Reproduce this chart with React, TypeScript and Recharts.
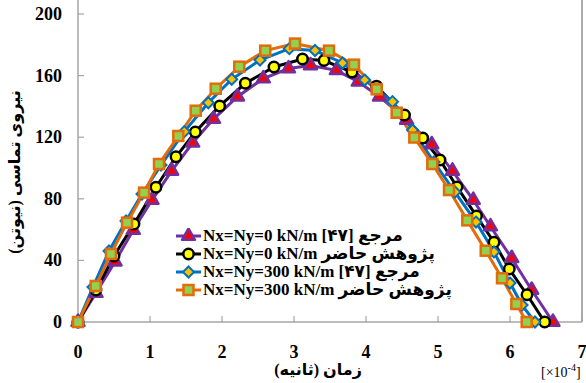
import React from 'react';
import {
  LineChart,
  Line,
  XAxis,
  YAxis,
  Legend,
  ReferenceLine,
} from 'recharts';

// time in units of 1e-4 s, contact force in N
const refZeroTime = [0, 0.25, 0.514, 0.768, 1.028, 1.301, 1.593, 1.882, 2.215, 2.574, 2.924, 3.229, 3.588, 3.893, 4.188, 4.563, 4.913, 5.201, 5.49, 5.729, 6.024, 6.301, 6.597];
const refZeroForce = [0, 18.8, 39.2, 59.7, 79.2, 98.1, 116.4, 131.8, 146.3, 158.1, 164.6, 166.6, 163.4, 156.0, 146.3, 131.2, 115.3, 98.1, 79.2, 62.0, 41.4, 20.8, 0];

const presentZeroTime = [0, 0.25, 0.5, 0.778, 1.083, 1.361, 1.629, 1.968, 2.324, 2.722, 3.118, 3.417, 3.806, 4.146, 4.535, 4.788, 5.028, 5.264, 5.535, 5.778, 5.99, 6.236, 6.482];
const presentZeroForce = [0, 20.8, 42.9, 63.6, 87.5, 107.3, 123.4, 140.3, 155.0, 165.6, 170.8, 169.8, 162.3, 153.2, 134.4, 119.5, 105.2, 87.7, 68.8, 51.8, 34.4, 17.7, 0];

const ref300Time = [0, 0.208, 0.431, 0.667, 0.889, 1.153, 1.476, 1.81, 2.135, 2.528, 2.935, 3.292, 3.674, 3.982, 4.368, 4.646, 4.944, 5.236, 5.528, 5.778, 6.0, 6.167, 6.347];
const ref300Force = [0, 22.7, 46.1, 65.6, 83.1, 101.9, 123.6, 142.4, 157.6, 170.1, 177.5, 176.3, 168.2, 157.1, 143.1, 124.7, 103.9, 84.4, 64.9, 45.5, 25.3, 11, 0];

const present300Time = [0, 0.246, 0.458, 0.681, 0.917, 1.125, 1.393, 1.635, 1.913, 2.24, 2.601, 3.014, 3.486, 3.833, 4.149, 4.426, 4.671, 4.921, 5.153, 5.407, 5.663, 5.889, 6.088, 6.232];
const present300Force = [0, 23.4, 44.2, 64.5, 84.0, 102.6, 120.8, 137.2, 151.5, 165.8, 176.2, 180.8, 176.2, 167.1, 151.1, 135.9, 119.8, 102.6, 85.7, 66.0, 46.3, 28.4, 11.7, 0];

const xTicks = [0, 1, 2, 3, 4, 5, 6, 7];
const yTicks = [0, 40, 80, 120, 160, 200];

const legendLabels = [
  'مرجع [۴۷] Nx=Ny=0 kN/m',
  'پژوهش حاضر Nx=Ny=0 kN/m',
  'مرجع [۴۷] Nx=Ny=300 kN/m',
  'پژوهش حاضر Nx=Ny=300 kN/m',
];

const toPoints = (time: number[], force: number[]) =>
  time.map((t, i) => ({ t, f: force[i] }));

const FONT = '"Liberation Serif", "Times New Roman", "DejaVu Sans", serif';
const AXIS_GREY = '#a6a6a6';

type Marker = 'triangle' | 'circle' | 'diamond' | 'square';

function drawMarker(kind: Marker, cx: number, cy: number, stroke: string, fill: string, key?: string) {
  if (kind === 'triangle') {
    const r = 7.5;
    const pts = `${cx},${cy - r} ${cx + r * 0.866},${cy + r / 2} ${cx - r * 0.866},${cy + r / 2}`;
    return <polygon key={key} points={pts} fill={fill} stroke={stroke} strokeWidth={2.5} strokeLinejoin="round" />;
  }
  if (kind === 'circle') {
    return <circle key={key} cx={cx} cy={cy} r={5.2} fill={fill} stroke={stroke} strokeWidth={2.5} />;
  }
  if (kind === 'diamond') {
    const r = 5.5;
    const pts = `${cx},${cy - r} ${cx + r},${cy} ${cx},${cy + r} ${cx - r},${cy}`;
    return <polygon key={key} points={pts} fill={fill} stroke={stroke} strokeWidth={2} />;
  }
  return <rect key={key} x={cx - 5} y={cy - 5} width={10} height={10} fill={fill} stroke={stroke} strokeWidth={2.5} />;
}

const series = [
  { id: 'refZero', data: toPoints(refZeroTime, refZeroForce), line: '#7030a0', fill: '#ff0000', marker: 'triangle' as Marker },
  { id: 'presentZero', data: toPoints(presentZeroTime, presentZeroForce), line: '#000000', fill: '#ffff00', marker: 'circle' as Marker },
  { id: 'ref300', data: toPoints(ref300Time, ref300Force), line: '#0070c0', fill: '#ffc000', marker: 'diamond' as Marker },
  { id: 'present300', data: toPoints(present300Time, present300Force), line: '#e36c0a', fill: '#92d050', marker: 'square' as Marker },
];

const XTick = (props: any) => {
  const { x, y, payload } = props;
  return (
    <g>
      <line x1={x} y1={y} x2={x} y2={y - 6} stroke={AXIS_GREY} strokeWidth={1.2} />
      <text x={x} y={y + 36} textAnchor="middle" fontFamily={FONT} fontWeight="bold" fontSize={18} fill="#000">
        {payload.value}
      </text>
    </g>
  );
};

const YTick = (props: any) => {
  const { x, y, payload } = props;
  return (
    <g>
      {payload.value !== 0 && (
        <line x1={x} y1={y} x2={x + 6} y2={y} stroke={AXIS_GREY} strokeWidth={1.2} />
      )}
      <text x={x - 16} y={y + 6} textAnchor="end" fontFamily={FONT} fontWeight="bold" fontSize={18} fill="#000">
        {payload.value}
      </text>
    </g>
  );
};

const LegendBox = () => (
  <div style={{ fontFamily: FONT, fontWeight: 'bold', fontSize: 17, lineHeight: '18px' }}>
    {series.map((s, i) => (
      <div key={s.id} style={{ display: 'flex', alignItems: 'center', height: 18, whiteSpace: 'nowrap' }}>
        <svg width={27} height={16} style={{ flex: 'none' }}>
          <line x1={1} y1={8} x2={26} y2={8} stroke={s.line} strokeWidth={3} />
          {drawMarker(s.marker, 13.5, 8, s.marker === 'circle' ? '#000' : s.line, s.fill)}
        </svg>
        <span dir="rtl" style={{ marginLeft: 1, unicodeBidi: 'isolate' }}>{legendLabels[i]}</span>
      </div>
    ))}
  </div>
);

export default function App() {
  return (
    <div style={{ position: 'absolute', left: 0, top: 0, width: 586, height: 383, background: '#fff' }}>
      <LineChart width={586} height={383} margin={{ top: 0, right: 4, bottom: 0, left: 0 }}>
        <XAxis
          type="number"
          dataKey="t"
          domain={[0, 7]}
          ticks={xTicks}
          interval={0}
          height={61}
          tickSize={0}
          tickMargin={0}
          tickLine={false}
          axisLine={{ stroke: AXIS_GREY, strokeWidth: 1.5 }}
          tick={<XTick />}
        />
        <YAxis
          type="number"
          dataKey="f"
          domain={[0, 209.1]}
          ticks={yTicks}
          interval={0}
          width={78}
          tickSize={0}
          tickMargin={0}
          tickLine={false}
          axisLine={{ stroke: AXIS_GREY, strokeWidth: 1.5 }}
          tick={<YTick />}
        />
        <ReferenceLine x={7} stroke="#595959" strokeWidth={1} />
        {series.map((s) => (
          <Line
            key={s.id}
            data={s.data}
            dataKey="f"
            type="linear"
            stroke={s.line}
            strokeWidth={3}
            isAnimationActive={false}
            dot={(p: any) =>
              drawMarker(s.marker, p.cx, p.cy, s.marker === 'circle' ? '#000' : s.line, s.fill, `${s.id}-${p.index}`)
            }
            activeDot={false}
          />
        ))}
        <Legend
          layout="vertical"
          align="center"
          verticalAlign="middle"
          content={<LegendBox />}
          wrapperStyle={{ left: 175, top: 227, width: 230 }}
        />
        <text
          x={20}
          y={172}
          transform="rotate(-90 20 172)"
          textAnchor="middle"
          direction="rtl"
          fontFamily={FONT}
          fontWeight="bold"
          fontSize={16}
          fill="#000"
        >
          نیروی تماسی (نیوتن)
        </text>
        <text
          x={318}
          y={375}
          textAnchor="middle"
          direction="rtl"
          fontFamily={FONT}
          fontWeight="bold"
          fontSize={16}
          fill="#000"
        >
          زمان (ثانیه)
        </text>
        <text x={541} y={377} fontFamily={FONT} fontSize={14} fill="#000">
          [×10
          <tspan dy={-6} fontSize={10}>-4</tspan>
          <tspan dy={6}>]</tspan>
        </text>
      </LineChart>
    </div>
  );
}
